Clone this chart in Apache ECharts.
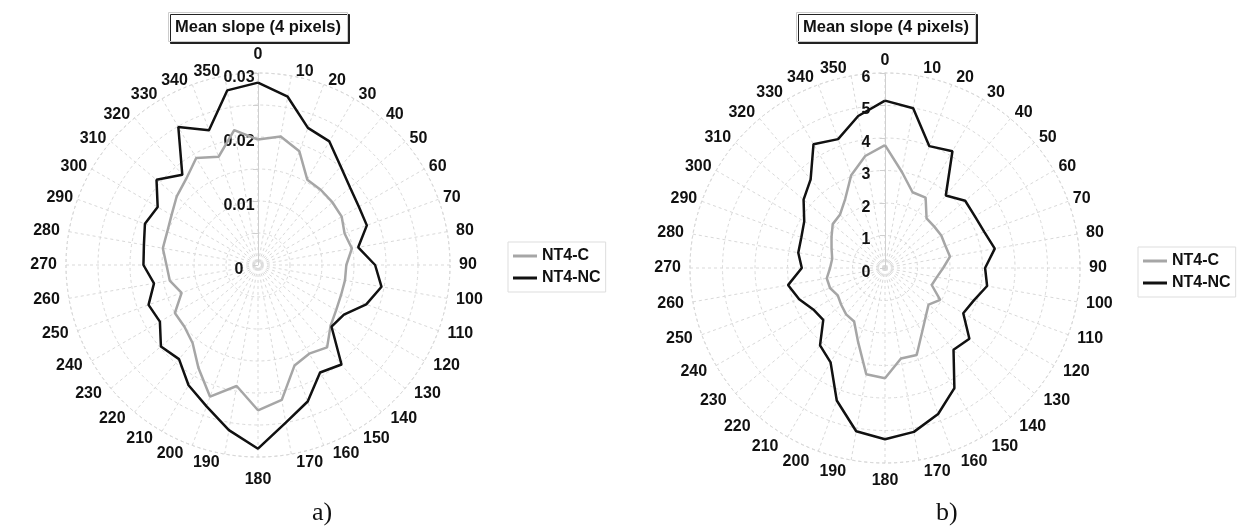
<!DOCTYPE html>
<html>
<head>
<meta charset="utf-8">
<script src="https://cdn.jsdelivr.net/npm/echarts@6/dist/echarts.min.js"></script>
<style>
  html, body { margin: 0; padding: 0; background: #fff; }
  #main { width: 1237px; height: 526px; }
</style>
</head>
<body>
<div id="main"></div>
<script>
// direction in degrees, clockwise from north
const angles = [0, 10, 20, 30, 40, 50, 60, 70, 80, 90, 100, 110, 120, 130, 140, 150, 160, 170,
  180, 190, 200, 210, 220, 230, 240, 250, 260, 270, 280, 290, 300, 310, 320, 330, 340, 350];

// a) mean slope
const slopeCa = [0.0196, 0.0204, 0.0189, 0.0154, 0.0153, 0.0152, 0.0151, 0.0144, 0.0149, 0.0138,
  0.0138, 0.0138, 0.0141, 0.0148, 0.0168, 0.0160, 0.0167, 0.0214, 0.0227, 0.0192, 0.0219, 0.0186,
  0.0159, 0.0150, 0.0150, 0.0127, 0.0140, 0.0143, 0.0151, 0.0151, 0.0156, 0.0166, 0.0175, 0.0193,
  0.0180, 0.0214];
const slopeNCa = [0.0285, 0.0267, 0.0228, 0.0223, 0.0201, 0.0188, 0.0182, 0.0181, 0.0159, 0.0183,
  0.0196, 0.0180, 0.0155, 0.0150, 0.0203, 0.0194, 0.0227, 0.0250, 0.0287, 0.0262, 0.0235, 0.0217,
  0.0192, 0.0198, 0.0177, 0.0182, 0.0165, 0.0179, 0.0181, 0.0188, 0.0181, 0.0207, 0.0184, 0.0249,
  0.0224, 0.0277];

// b) mean slope
const slopeCb = [3.78, 3.00, 2.48, 2.50, 1.99, 1.98, 2.00, 1.98, 2.03, 1.79, 1.62, 1.53, 1.96, 1.75,
  1.95, 2.28, 2.85, 2.83, 3.39, 3.32, 2.42, 1.90, 1.86, 1.76, 1.68, 1.80, 1.82, 1.69, 1.65, 1.75,
  1.90, 2.10, 2.15, 2.45, 3.04, 3.50];
const slopeNCb = [5.15, 4.99, 3.99, 4.15, 2.91, 3.22, 3.19, 3.25, 3.43, 3.08, 3.19, 2.91, 2.78, 3.39,
  3.28, 4.27, 4.78, 5.12, 5.27, 5.10, 4.34, 3.35, 3.11, 2.48, 2.55, 2.81, 3.03, 2.56, 2.71, 2.74,
  2.87, 3.27, 3.56, 4.40, 4.22, 4.75];

const radiusLabelsA = [0, 0.01, 0.02, 0.03];
const radiusLabelsB = [0, 1, 2, 3, 4, 5, 6];

const seriesNames = ["NT4-C", "NT4-NC"];

const FONT = "Liberation Sans";
const GRID = "#d9d9d9";
const labelFont = { fontFamily: FONT, fontWeight: "bold", fontSize: 16, color: "#111", lineHeight: 1 };

// [radius, angle] pairs, closed back to the first point
function ring(values) {
  const pts = values.map((v, i) => [v, angles[i]]);
  pts.push([values[0], 360]);
  return pts;
}

// Excel puts the direction labels beside the ring point (edge-aligned, vertically centred).
// ECharts anchors them on the ring with its own alignment, so pad each one to match.
// (a rich token's vertical padding moves the text by half of pt - pb)
function angleLabelRich(place) {
  const rich = {};
  angles.forEach((a) => {
    const rad = (a * Math.PI) / 180;
    const s = Math.sin(rad);
    const c = Math.cos(rad);
    const centred = Math.abs(s) < 0.3;
    const gx = c > 0.3 ? 4.5 : centred ? 5 : 9;
    const w = String(a).length * 8.9;
    let pl = 0, pr = 0;
    let dy = c > 0 ? -place.up * c : place.low * -c;
    if (a === 0) dy = place.top;
    else if (a === 180) dy = place.bottom;
    else if (centred) {
      if (s > 0) pl = w + 2 * gx; else pr = w + 2 * gx;
    } else if (s > 0) pl = gx;
    else pr = gx;
    const pt = dy > 0 ? 2 * dy : 0;
    const pb = dy < 0 ? -2 * dy : 0;
    rich["a" + a] = { ...labelFont, padding: [pt, pr, pb, pl] };
  });
  return rich;
}

function angleAxis(idx, place) {
  return {
    polarIndex: idx,
    type: "value",
    min: 0,
    max: 360,
    interval: 10,
    startAngle: 90,
    clockwise: true,
    axisLine: { lineStyle: { color: GRID, type: [3, 3] } },
    axisTick: { show: false },
    axisLabel: {
      margin: 0,
      ...labelFont,
      formatter: (v) => (v >= 360 ? "" : "{a" + v + "|" + v + "}"),
      rich: angleLabelRich(place),
    },
    splitLine: { show: true, lineStyle: { color: GRID, type: [3, 3] } },
  };
}

function radiusAxis(idx, max, interval, labels) {
  return {
    polarIndex: idx,
    type: "value",
    min: 0,
    max: max,
    interval: interval,
    axisLine: { lineStyle: { color: "#d0d0d0" } },
    axisTick: { show: true, length: 5, lineStyle: { color: "#d0d0d0" } },
    axisLabel: {
      margin: 1,
      fontFamily: FONT,
      fontWeight: "bold",
      fontSize: 16,
      color: "#111",
      formatter: (v) => {
        const t = labels.find((l) => Math.abs(l - v) < interval / 100);
        return t === undefined ? "" : "{v|" + t + "}";
      },
      rich: {
        v: { fontFamily: FONT, fontWeight: "bold", fontSize: 16, color: "#111",
          width: 36, align: "center", lineHeight: 16, padding: [9, 0, 0, 0] },
      },
    },
    splitLine: { show: true, lineStyle: { color: GRID, type: [3, 3] } },
  };
}

function line(name, idx, values, color) {
  return {
    type: "line",
    name: name,
    coordinateSystem: "polar",
    polarIndex: idx,
    data: ring(values),
    symbol: "none",
    lineStyle: { color: color, width: 2.5 },
    itemStyle: { color: color },
    silent: true,
    animation: false,
  };
}

function boxTitle(left) {
  return {
    text: "Mean slope (4 pixels)",
    left: left,
    top: 12,
    padding: [6, 7],
    backgroundColor: "#fff",
    borderColor: "#cccccc",
    borderWidth: 1,
    shadowColor: "#222",
    shadowBlur: 0,
    shadowOffsetX: 2,
    shadowOffsetY: 2,
    textStyle: { fontFamily: FONT, fontWeight: "bold", fontSize: 16.5, lineHeight: 18, color: "#111" },
  };
}

function legend(left, top) {
  return {
    orient: "vertical",
    left: left,
    top: top,
    data: seriesNames,
    icon: "rect",
    itemWidth: 24,
    itemHeight: 3,
    itemGap: 6,
    padding: [6, 5],
    borderColor: "#dddddd",
    borderWidth: 1,
    selectedMode: false,
    textStyle: { fontFamily: FONT, fontWeight: "bold", fontSize: 16, color: "#111" },
  };
}

function caption(text, left) {
  return {
    text: text,
    left: left,
    top: 500,
    padding: 0,
    textStyle: { fontFamily: "Liberation Serif", fontWeight: "normal", fontSize: 26, color: "#111" },
  };
}

const option = {
  backgroundColor: "#fff",
  animation: false,
  title: [boxTitle(168), boxTitle(796), caption("a)", 312), caption("b)", 936)],
  legend: [legend(508, 242), legend(1138, 247)],
  polar: [
    { center: [258, 265], radius: 192 },
    { center: [885, 268], radius: 195 },
  ],
  angleAxis: [
    angleAxis(0, { up: 4, low: 8, top: -18, bottom: 22 }),
    angleAxis(1, { up: 7, low: 11, top: -12, bottom: 17 }),
  ],
  radiusAxis: [
    radiusAxis(0, 0.03, 0.005, radiusLabelsA),
    radiusAxis(1, 6, 1, radiusLabelsB),
  ],
  series: [
    line(seriesNames[0], 0, slopeCa, "#a6a6a6"),
    line(seriesNames[1], 0, slopeNCa, "#111111"),
    line(seriesNames[0], 1, slopeCb, "#a6a6a6"),
    line(seriesNames[1], 1, slopeNCb, "#111111"),
  ],
};

const chart = echarts.init(document.getElementById("main"));
chart.setOption(option);
</script>
</body>
</html>
